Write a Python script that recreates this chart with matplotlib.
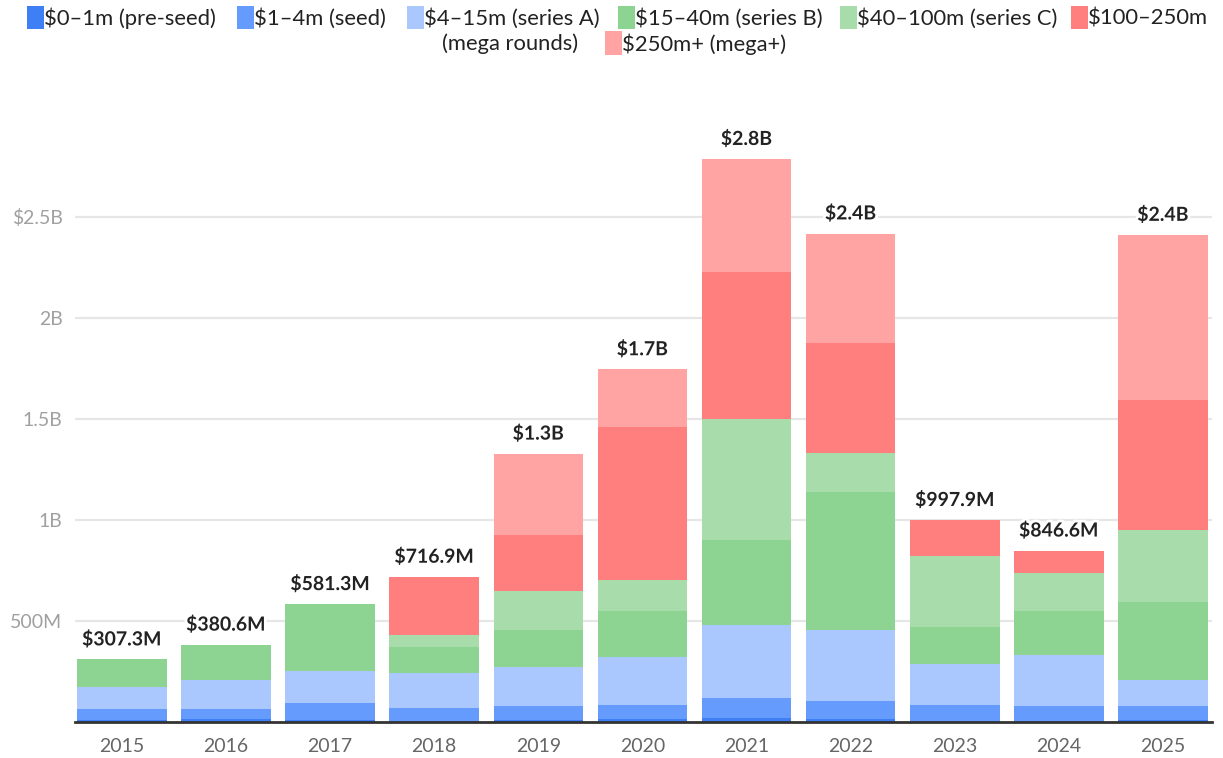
import matplotlib.pyplot as plt
from matplotlib.patches import Rectangle
import matplotlib.patheffects as pe
import numpy as np

plt.rcParams["font.family"] = ["Lato", "DejaVu Sans"]

years = ["2015", "2016", "2017", "2018", "2019", "2020",
         "2021", "2022", "2023", "2024", "2025"]

# funding in $M per round size bucket
pre_seed = [7, 11, 7, 4, 6, 12, 17, 12, 4, 4, 6]
seed = [54, 53, 85, 65, 70, 72, 100, 88, 77, 73, 73]
series_a = [111, 141, 159, 171, 192, 236, 359, 351, 204, 254, 126]
series_b = [135.3, 175.6, 330.3, 128, 183, 229, 423, 684, 182, 219, 385]
series_c = [0, 0, 0, 61, 197, 152, 601, 197, 355, 184, 359]
mega = [0, 0, 0, 287.9, 276, 760, 729, 542, 175.9, 112.6, 642]
mega_plus = [0, 0, 0, 0, 403, 284, 558, 544, 0, 0, 820]

total_labels = ["$307.3M", "$380.6M", "$581.3M", "$716.9M", "$1.3B", "$1.7B",
                "$2.8B", "$2.4B", "$997.9M", "$846.6M", "$2.4B"]

series = [
    ("$0–1m (pre-seed)", pre_seed, "#3f7ff6"),
    ("$1–4m (seed)", seed, "#659bfc"),
    ("$4–15m (series A)", series_a, "#aac8fd"),
    ("$15–40m (series B)", series_b, "#8dd392"),
    ("$40–100m (series C)", series_c, "#a8dcaa"),
    ("$100–250m (mega rounds)", mega, "#ff7f7f"),
    ("$250m+ (mega+)", mega_plus, "#ffa3a3"),
]

yticks = [500, 1000, 1500, 2000, 2500]
ytick_labels = ["500M", "1B", "1.5B", "2B", "$2.5B"]

W, H = 1223, 758
fig = plt.figure(figsize=(W / 100, H / 100), dpi=100)
ax = fig.add_axes([75 / W, 36.5 / H, 1137 / W, 605.4 / H])

x = np.arange(len(years))
bottom = np.zeros(len(years))
for name, vals, color in series:
    vals = np.array(vals, dtype=float)
    ax.bar(x, vals, width=0.86, bottom=bottom, color=color, linewidth=0, zorder=2)
    bottom += vals

for i, lab in enumerate(total_labels):
    ax.annotate(lab, (x[i], bottom[i]), xytext=(0, 8), textcoords="offset points",
                ha="center", va="bottom", fontsize=14, fontweight="bold", color="#222222",
                path_effects=[pe.withStroke(linewidth=4, foreground="white")], zorder=4)

ax.set_xlim(-0.45, 10.47)
ax.set_ylim(0, 3000)
ax.set_xticks(x)
ax.set_xticklabels(years)
ax.set_yticks(yticks)
ax.set_yticklabels(ytick_labels)
ax.yaxis.grid(True, color="#e6e6e6", linewidth=1.6, zorder=0)
ax.set_axisbelow(True)
for s in ["top", "right", "left"]:
    ax.spines[s].set_visible(False)
ax.spines["bottom"].set_color("#333333")
ax.spines["bottom"].set_linewidth(2)
ax.spines["bottom"].set_zorder(3)
ax.tick_params(axis="y", length=0, pad=9, labelsize=14, labelcolor="#a0a0a0")
ax.tick_params(axis="x", length=0, pad=12, labelsize=14, labelcolor="#666666")

# legend laid out like the original wrapped html legend
legend_items = [
    (27, 17.5, 0), (237, 17.5, 1), (407, 17.5, 2), (618, 17.5, 3),
    (840, 17.5, 4), (1071, 17.5, 5), (605, 43, 6),
]
for px, py, k in legend_items:
    name, _, color = series[k]
    fig.add_artist(Rectangle((px / W, 1 - (py + 11.5) / H), 17 / W, 23 / H,
                             transform=fig.transFigure, color=color, lw=0))
    label = name
    if k == 5:
        label = "$100–250m"
    fig.text((px + 17) / W, 1 - (py + 1) / H, label, fontsize=15.8, color="#222222",
             ha="left", va="center")
fig.text(442 / W, 1 - 44 / H, "(mega rounds)", fontsize=15.8, color="#222222",
         ha="left", va="center")

fig.savefig("out.png", dpi=100)
